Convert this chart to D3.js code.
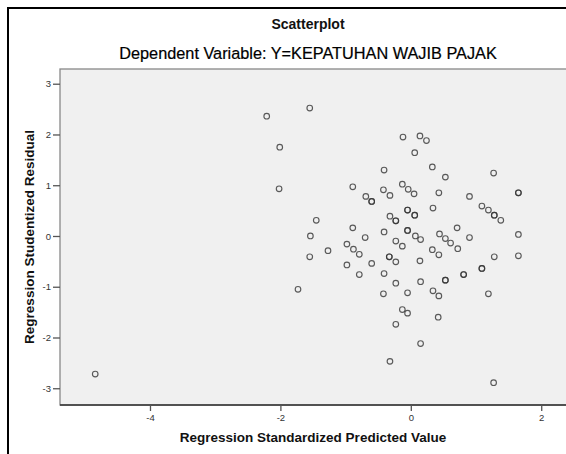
<!DOCTYPE html>
<html>
<head>
<meta charset="utf-8">
<script src="https://cdn.jsdelivr.net/npm/d3@7"></script>
<style>
  html, body { margin: 0; padding: 0; background: #fff; }
  svg { display: block; font-family: "Liberation Sans", Arial, sans-serif; }
</style>
</head>
<body>
<svg id="chart" width="566" height="454"></svg>
<script>
const chartTitle = "Scatterplot";
const chartSubtitle = "Dependent Variable: Y=KEPATUHAN WAJIB PAJAK";
const xLabel = "Regression Standardized Predicted Value";
const yLabel = "Regression Studentized Residual";
const xTicks = [-4, -2, 0, 2];
const yTicks = [-3, -2, -1, 0, 1, 2, 3];

// Regression standardized predicted values
const predicted = [
  -2.21, -1.55, -2.01, -2.02, -0.12, 0.14, 0.24, 0.06, -0.41, 0.33,
  0.53, 1.27, 1.65, 1.65, -0.89, -0.69, -0.60, -0.60, -0.42, -0.32,
  -0.13, -0.04, 0.05, 0.43, 0.90, -1.45, -1.54, -0.89, -0.70, -0.41,
  -0.32, -0.23, -0.23, -0.05, -0.05, 0.06, 0.06, 0.34, -0.05, -0.05,
  -0.23, 0.07, 0.15, 0.44, 0.53, 0.71, 0.90, 1.09, 1.19, 1.28,
  1.28, 1.38, 1.65, -0.13, -0.98, -0.88, -0.79, -1.27, -1.55, -0.33,
  -0.33, -0.23, -0.60, -0.98, -0.79, -0.41, -0.23, -0.05, -0.42, -1.73,
  -0.13, -0.05, -0.23, -0.32, 0.61, 0.33, 0.43, 0.72, 1.28, 1.65,
  0.14, 0.15, 0.53, 0.53, 0.81, 0.81, 1.09, 1.09, 0.34, 0.43,
  1.19, 0.42, 0.15, 1.27, -4.84
];
// Regression studentized residuals
const residual = [
  2.36, 2.52, 1.75, 0.93, 1.95, 1.97, 1.88, 1.64, 1.30, 1.36,
  1.16, 1.24, 0.85, 0.85, 0.97, 0.78, 0.68, 0.68, 0.91, 0.80,
  1.02, 0.92, 0.83, 0.85, 0.78, 0.31, 0.00, 0.16, -0.03, 0.08,
  0.39, 0.30, 0.30, 0.51, 0.51, 0.41, 0.41, 0.55, 0.11, 0.11,
  -0.10, 0.00, -0.07, 0.04, -0.05, 0.16, -0.03, 0.59, 0.51, 0.41,
  0.41, 0.31, 0.03, -0.20, -0.16, -0.26, -0.36, -0.29, -0.41, -0.41,
  -0.41, -0.51, -0.54, -0.57, -0.76, -0.74, -0.93, -1.12, -1.14, -1.05,
  -1.45, -1.52, -1.74, -2.47, -0.14, -0.27, -0.37, -0.25, -0.41, -0.39,
  -0.49, -0.90, -0.87, -0.87, -0.76, -0.76, -0.64, -0.64, -1.08, -1.18,
  -1.14, -1.60, -2.12, -2.89, -2.72
];

const points = predicted.map((p, i) => ({ x: p, y: residual[i] }));

const svg = d3.select("#chart");
const plot = { left: 60, right: 566, top: 69, bottom: 405 };

const x = d3.scaleLinear().domain([-5.38, 2.38]).range([plot.left, plot.right]);
const y = d3.scaleLinear().domain([-3.33, 3.29]).range([plot.bottom, plot.top]);

// outer frame
svg.append("path")
  .attr("d", `M8,460 L8,8 L570,8`)
  .attr("fill", "none").attr("stroke", "#000").attr("stroke-width", 2);

// titles
svg.append("text").attr("x", 308).attr("y", 29).attr("text-anchor", "middle")
  .attr("font-size", 14).attr("font-weight", "bold").attr("fill", "#111").text(chartTitle);
svg.append("text").attr("x", 308).attr("y", 59).attr("text-anchor", "middle")
  .attr("font-size", 16.3).attr("fill", "#000")
  .attr("stroke", "#000").attr("stroke-width", 0.2).text(chartSubtitle);

// plot background
svg.append("rect")
  .attr("x", plot.left).attr("y", plot.top)
  .attr("width", plot.right - plot.left + 10).attr("height", plot.bottom - plot.top)
  .attr("fill", "#f0f0f0").attr("stroke", "#888").attr("stroke-width", 1.3);
svg.append("line")
  .attr("x1", plot.left).attr("x2", plot.right + 10)
  .attr("y1", plot.bottom).attr("y2", plot.bottom)
  .attr("stroke", "#333").attr("stroke-width", 1.5);

// axes
const yAxis = svg.append("g").attr("transform", `translate(${plot.left},0)`)
  .call(d3.axisLeft(y).tickValues(yTicks).tickSize(7).tickPadding(2).tickFormat(d3.format("d")));
const xAxis = svg.append("g").attr("transform", `translate(0,${plot.bottom})`)
  .call(d3.axisBottom(x).tickValues(xTicks).tickSize(6).tickPadding(3).tickFormat(d3.format("d")));
[yAxis, xAxis].forEach(g => {
  g.select(".domain").remove();
  g.selectAll(".tick line").attr("stroke", "#555").attr("stroke-width", 1.3);
  g.selectAll(".tick text").attr("font-size", 9.5).attr("fill", "#333")
    .attr("font-family", "'Liberation Sans', Arial, sans-serif")
    .text(d => d < 0 ? "-" + Math.abs(d) : d);
});

// points
svg.append("g").selectAll("circle").data(points).join("circle")
  .attr("cx", d => x(d.x)).attr("cy", d => y(d.y)).attr("r", 2.8)
  .attr("fill", "none").attr("stroke", "#333").attr("stroke-opacity", 0.8).attr("stroke-width", 1.15);

// axis labels
svg.append("text").attr("x", 313).attr("y", 442).attr("text-anchor", "middle")
  .attr("font-size", 13.5).attr("font-weight", "bold").attr("fill", "#111").text(xLabel);
svg.append("text").attr("transform", `translate(34,${(plot.top + plot.bottom) / 2}) rotate(-90)`)
  .attr("text-anchor", "middle")
  .attr("font-size", 13.5).attr("font-weight", "bold").attr("fill", "#111").text(yLabel);
</script>
</body>
</html>
